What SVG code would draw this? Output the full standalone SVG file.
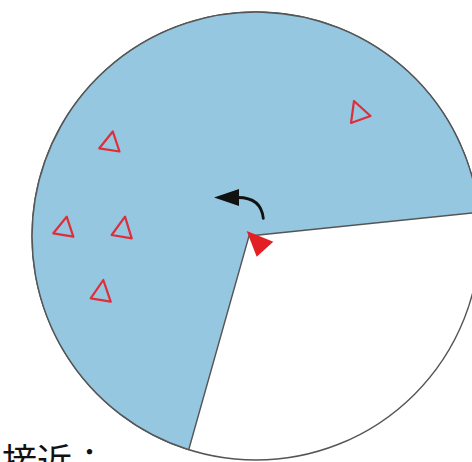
<svg xmlns="http://www.w3.org/2000/svg" width="472" height="462" viewBox="0 0 472 462">
  <style>
    .edge { stroke: #555555; stroke-width: 1.4; }
    .tri { fill: none; stroke: #DD2E3C; stroke-width: 2.2; stroke-linejoin: round; }
    .label { font-family: "Noto Sans CJK JP", "Noto Sans CJK SC", sans-serif; font-size: 35px; fill: #111111; }
  </style>
  <defs>
    <marker id="ah" viewBox="0 0 25 17" refX="1" refY="8.5" markerWidth="25" markerHeight="17" markerUnits="userSpaceOnUse" orient="auto">
      <path d="M0,0 L25,8.5 L0,17 Z" fill="#111111"/>
    </marker>
  </defs>
  <rect width="472" height="462" fill="#ffffff"/>
  <g id="disc">
    <circle cx="256" cy="236" r="224" fill="#ffffff" class="edge"/>
    <path d="M249,236 L188.7,449.7 A224,224 0 1 1 478.8,212.3 Z" fill="#96C7E1" class="edge" stroke-linejoin="round"/>
  </g>
  <g id="targets">
    <g id="t1"><path class="tri" d="M112.8,131.5 L99.3,148.3 L119.5,151.5 Z"/></g>
    <g id="t2"><path class="tri" d="M66.7,216.7 L53.3,233.3 L73.3,236.7 Z"/></g>
    <g id="t3"><path class="tri" d="M125,216.7 L111.7,235 L131.7,238.3 Z"/></g>
    <g id="t4"><path class="tri" d="M103.3,280 L90.7,298.3 L110.7,301.7 Z"/></g>
    <g id="t5"><path class="tri" d="M354,101 L351,123 L370.5,116 Z"/></g>
  </g>
  <g id="observer">
    <path d="M246.7,231 L273.3,241.7 L256.7,256.7 Z" fill="#E31E24"/>
  </g>
  <g id="connectors">
    <path d="M263.3,218.3 Q261,197.5 238,197.5" fill="none" stroke="#111111" stroke-width="2.8" stroke-linecap="round" marker-end="url(#ah)"/>
  </g>
  <g id="caption">
    <text class="label" x="2" y="474">接近：</text>
  </g>
</svg>
